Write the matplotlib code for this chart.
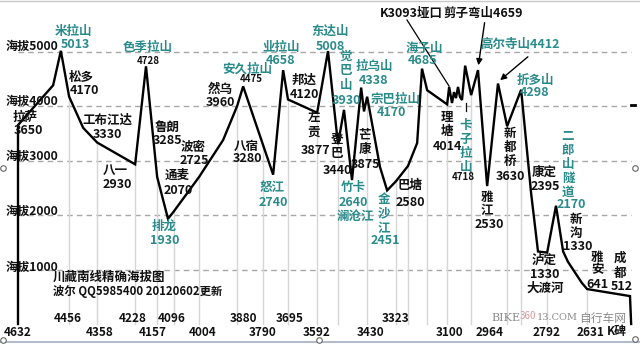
import matplotlib
matplotlib.use("Agg")
import matplotlib.pyplot as plt

plt.rcParams['font.family'] = ['Noto Sans CJK SC', 'DejaVu Sans']
plt.rcParams['font.weight'] = 'bold'

# ---------------- data ----------------
places = ['', '拉萨', '', '米拉山', '松多', '', '工布江达', '八一', '色季拉山', '鲁朗',
          '排龙', '通麦', '波密', '', '然乌', '安久拉山', '八宿', '怒江', '业拉山', '邦达',
          '左贡', '东达山', '登巴', '觉巴山', '竹卡', '拉乌山', '芒康', '宗巴拉山', '', '金沙江',
          '巴塘', '', '', '海子山', '', '理塘', 'K3093垭口', '', '', '',
          '', '', '', '卡子拉山', '', '剪子弯山', '雅江', '高尔寺山', '新都桥', '折多山',
          '康定', '泸定', '大渡河', '二郎山隧道', '新沟', '', '', '雅安', '成都', '']
dist_km = [0, 0, 123, 150, 179, 228, 277, 410, 448, 487,
           525, 546, 634, 718, 767, 788, 858, 893, 928, 945,
           1047, 1085, 1120, 1141, 1169, 1201, 1211, 1222, 1267, 1292,
           1323, 1365, 1397, 1414, 1432, 1502, 1509, 1519, 1526, 1533,
           1540, 1547, 1554, 1565, 1586, 1610, 1642, 1680, 1712, 1761,
           1796, 1820, 1852, 1883, 1908, 1925, 1974, 1992, 2142, 2146]
elev_m = [0, 3650, 4380, 5013, 4170, 3600, 3330, 2930, 4728, 2700,
          1930, 2070, 2700, 3376, 4000, 4360, 3280, 2740, 4658, 4120,
          3877, 5008, 3300, 3930, 2640, 4338, 3900, 4170, 2880, 2451,
          2620, 2900, 3320, 4685, 4290, 4030, 4350, 4055, 4255, 4145,
          4350, 4165, 4110, 4740, 4200, 4659, 2530, 4412, 3630, 4298,
          2395, 1330, 1310, 2170, 1330, 1140, 750, 641, 512, 0]
drop_idx = [4, 6, 7, 9, 11, 12, 14, 16, 19, 20, 22, 27, 30, 31, 34, 35, 44, 48, 49, 52, 57]

y_levels = [1000, 2000, 3000, 4000, 5000]
y_labels = ['海拔1000', '海拔2000', '海拔3000', '海拔4000', '海拔5000']

k_bottom = ['4632', '4358', '4157', '4004', '3790', '3592', '3430', '3100', '2964', '2792', '2631', 'K碑']
k_top = ['4456', '4228', '4096', '3880', '3695', '3323']

TEAL = '#2a8b8b'
BLACK = '#111111'

# ---------------- layout helpers (pixel -> data) ----------------
def PX(p):
    return (p - 18) * 3.5

def PY(p):
    return (324 - p) / 0.0545

def P(px, py):
    return PX(px), PY(py)

fig = plt.figure(figsize=(6.4, 3.44), dpi=100)
ax = fig.add_axes([0, 0, 1, 1])
ax.set_xlim(PX(0), PX(640))
ax.set_ylim(PY(344), PY(0))
ax.axis('off')

# horizontal dashed gridlines
for lv in y_levels:
    ax.plot([0, PX(631)], [lv, lv], color='#a8a8a8', lw=1.0, dashes=(4, 3), zorder=1)

# drop lines
for i in drop_idx:
    ax.plot([dist_km[i], dist_km[i]], [0, elev_m[i]], color='#d6d6d6', lw=1.0, zorder=1)

# profile line
ax.plot(dist_km, elev_m, color='black', lw=1.7, zorder=3, solid_joinstyle='miter')

# y labels
y_label_py = {1000: 267, 2000: 211, 3000: 156, 4000: 101, 5000: 46}
for lv, lab in zip(y_levels, y_labels):
    ax.text(PX(6), PY(y_label_py[lv]), lab, ha='left', va='center', fontsize=8.7, color=BLACK, zorder=4)

# x tick labels
bottom_px = [18, 100, 153, 203, 263, 317, 371, 450, 490, 547, 591, 617]
top_px = [68, 133, 172, 243, 290, 396]
for lab, px in zip(k_bottom, bottom_px):
    ax.text(PX(px), PY(332), lab, ha='center', va='center', fontsize=8.5, color=BLACK)
for lab, px in zip(k_top, top_px):
    ax.text(PX(px), PY(318), lab, ha='center', va='center', fontsize=8.5, color=BLACK)

# horizontal labels (text, px, py, color, size)
hlabels = [
    ('米拉山', 73, 32, TEAL, 9), ('5013', 75, 45, TEAL, 9),
    ('色季拉山', 148, 48, TEAL, 9), ('4728', 148, 61, BLACK, 7),
    ('安久拉山', 247, 69, TEAL, 9), ('4475', 251, 79, BLACK, 7),
    ('业拉山', 281, 47, TEAL, 9), ('4658', 281, 61, TEAL, 9),
    ('东达山', 330, 31, TEAL, 9), ('5008', 330, 46, TEAL, 9),
    ('拉乌山', 374, 66, TEAL, 9), ('4338', 374, 80, TEAL, 9),
    ('宗巴拉山', 396, 99, TEAL, 9), ('4170', 391, 113, TEAL, 9),
    ('海子山', 424, 48, TEAL, 9), ('4685', 423, 61, TEAL, 9),
    ('高尔寺山4412', 520, 44, TEAL, 9),
    ('折多山', 535, 80, TEAL, 9), ('4298', 535, 93, TEAL, 9),
    ('排龙', 164, 226, TEAL, 9), ('1930', 165, 241, TEAL, 9),
    ('怒江', 272, 187, TEAL, 9), ('2740', 273, 202, TEAL, 9),
    ('竹卡', 353, 188, TEAL, 9), ('2640', 353, 202, TEAL, 9), ('澜沧江', 355, 216, TEAL, 9),
    ('2451', 385, 241, TEAL, 9), ('2170', 571, 204, TEAL, 9), ('3930', 346, 100, TEAL, 9),
    ('4718', 463, 177, BLACK, 7),
    ('K3093垭口', 411, 13, BLACK, 9), ('剪子弯山4659', 483, 13, BLACK, 9),
    ('拉萨', 25, 118, BLACK, 9), ('3650', 28, 131, BLACK, 9),
    ('松多', 81, 77, BLACK, 9), ('4170', 84, 90, BLACK, 9),
    ('工布江达', 107, 120, BLACK, 9), ('3330', 107, 134, BLACK, 9),
    ('八一', 115, 170, BLACK, 9), ('2930', 117, 184, BLACK, 9),
    ('鲁朗', 167, 127, BLACK, 9), ('3285', 168, 141, BLACK, 9),
    ('波密', 193, 148, BLACK, 9), ('2725', 194, 161, BLACK, 9),
    ('通麦', 177, 175, BLACK, 9), ('2070', 178, 191, BLACK, 9),
    ('然乌', 220, 89, BLACK, 9), ('3960', 220, 103, BLACK, 9),
    ('八宿', 246, 146, BLACK, 9), ('3280', 247, 159, BLACK, 9),
    ('邦达', 304, 80, BLACK, 9), ('4120', 304, 94, BLACK, 9),
    ('3877', 316, 150, BLACK, 9), ('3440', 337, 171, BLACK, 9), ('3875', 366, 165, BLACK, 9),
    ('巴塘', 410, 186, BLACK, 9), ('2580', 410, 202, BLACK, 9),
    ('4014', 447, 146, BLACK, 9), ('2530', 489, 224, BLACK, 9), ('3630', 510, 177, BLACK, 9),
    ('康定', 544, 172, BLACK, 9), ('2395', 545, 186, BLACK, 9),
    ('1330', 578, 247, BLACK, 9),
    ('泸定', 544, 260, BLACK, 9), ('1330', 545, 274, BLACK, 9), ('大渡河', 545, 288, BLACK, 9),
    ('641', 597, 284, BLACK, 9), ('512', 622, 286, BLACK, 9),
]
for t, px, py, c, fs in hlabels:
    ax.text(PX(px), PY(py), t, ha='center', va='center', fontsize=fs, color=c, zorder=5)

# vertical labels (chars, px, first-char py, step, color)
vlabels = [
    ('觉巴山', 346, 56, 14.5, TEAL),
    ('左贡', 314, 118, 14, BLACK),
    ('登巴', 337, 140, 13.5, BLACK),
    ('芒康', 365, 135, 15, BLACK),
    ('金沙江', 384, 199, 14.5, TEAL),
    ('理塘', 447, 117, 15, BLACK),
    ('卡子拉山', 466, 125, 14, TEAL),
    ('雅江', 487, 197, 13.5, BLACK),
    ('新都桥', 510, 133, 14, BLACK),
    ('二郎山隧道', 568, 137, 13.8, TEAL),
    ('新沟', 576, 220, 13.5, BLACK),
    ('雅安', 597, 257, 13, BLACK),
    ('成都', 620, 258, 15, BLACK),
]
for chars, px, py0, step, c in vlabels:
    for k, ch in enumerate(chars):
        ax.text(PX(px), PY(py0 + k * step), ch, ha='center', va='center', fontsize=9, color=c, zorder=5)

# title / author
ax.text(PX(53), PY(277), '川藏南线精确海拔图', ha='left', va='center', fontsize=9, color=BLACK)
ax.text(PX(53), PY(292), '波尔 QQ5985400 20120602更新', ha='left', va='center', fontsize=8.2, color=BLACK)

# watermark
ax.text(PX(491), PY(318), 'BIKE', ha='left', va='center', fontsize=8, color='#8a8a8a',
        family=['DejaVu Serif'], fontweight='normal')
ax.text(PX(520), PY(316), '360', ha='left', va='center', fontsize=7, color='#d08080',
        fontweight='normal', alpha=0.8)
ax.text(PX(537), PY(318), '13.COM', ha='left', va='center', fontsize=7, color='#8a8a8a',
        family=['DejaVu Serif'], fontweight='normal')
ax.text(PX(579), PY(318), '自行车网', ha='left', va='center', fontsize=8.5, color='#8a8a8a',
        fontweight='normal')

# leader lines / arrows
ax.plot([PX(407), PX(449)], [PY(20), PY(86)], color='black', lw=0.9, zorder=4)
ax.annotate('', xy=P(478, 68), xytext=P(485, 20),
            arrowprops=dict(arrowstyle='-|>', color='black', lw=1.0, mutation_scale=9), zorder=4)
ax.annotate('', xy=P(498, 82), xytext=P(530, 55),
            arrowprops=dict(arrowstyle='-|>', color='black', lw=1.0, mutation_scale=9), zorder=4)
ax.plot([PX(466), PX(466)], [PY(103), PY(111)], color=BLACK, lw=0.9, zorder=4)

# small right-side tick
ax.plot([PX(631), PX(635)], [PY(105), PY(105)], color='black', lw=2)

# frame lines and selection handles
ax.plot([PX(0), PX(640)], [PY(1), PY(1)], color='#c8c8c8', lw=1)
ax.plot([PX(0), PX(640)], [PY(341.5), PY(341.5)], color='#b4bccc', lw=1.5)
for hx, hy in [(3, 168), (3, 340), (319, 340), (635, 168), (635, 339)]:
    ax.plot(*P(hx, hy), marker='o', ms=4, mfc='white', mec='#666666', mew=0.8, zorder=6)

fig.savefig('out.png', dpi=100)
